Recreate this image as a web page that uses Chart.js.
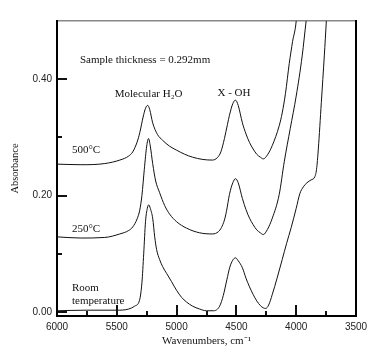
<!DOCTYPE html>
<html lang="en">
<head>
    <meta charset="UTF-8">
    <title>Absorbance spectra</title>
    <style>
        body {
            margin: 0;
            background-color: #fff;
        }
        #wrap {
            width: 387px;
            height: 351px;
        }
    </style>
</head>
<body>
    <div id="wrap">
        <canvas id="irChart" width="387" height="351"></canvas>
    </div>

    <script src="https://cdn.jsdelivr.net/npm/chart.js"></script>
    <script>
        // Room temperature spectrum
        const roomWn = [6000, 5750, 5500, 5400, 5350, 5310, 5290, 5275, 5260, 5245, 5233, 5220, 5200, 5183,
            5167, 5142, 5117, 5083, 5042, 5000, 4958, 4917, 4867, 4808, 4750, 4690, 4640, 4610, 4580, 4555,
            4530, 4508, 4485, 4450, 4420, 4390, 4360, 4330, 4300, 4275, 4255, 4230, 4200, 4160, 4117, 4080,
            4042, 4000, 3970, 3940, 3910, 3875, 3845, 3830, 3815, 3790, 3765, 3748, 3740];
        const roomAbs = [0.002, 0.003, 0.003, 0.005, 0.010, 0.020, 0.050, 0.100, 0.155, 0.178, 0.184, 0.178, 0.161, 0.129,
            0.107, 0.090, 0.078, 0.066, 0.052, 0.037, 0.025, 0.017, 0.010, 0.005, 0.002, 0.002, 0.010, 0.028, 0.055, 0.077,
            0.089, 0.093, 0.088, 0.076, 0.058, 0.043, 0.030, 0.019, 0.011, 0.007, 0.006, 0.012, 0.030, 0.058, 0.090, 0.118,
            0.145, 0.178, 0.203, 0.215, 0.222, 0.227, 0.232, 0.245, 0.280, 0.360, 0.440, 0.500, 0.530];

        // 250°C spectrum
        const t250Wn = [6000, 5800, 5600, 5475, 5400, 5367, 5330, 5308, 5290, 5270, 5250, 5235, 5220, 5200, 5175,
            5142, 5100, 5058, 5000, 4917, 4808, 4700, 4650, 4625, 4600, 4583, 4558, 4530, 4508, 4485, 4450,
            4420, 4390, 4360, 4330, 4300, 4275, 4240, 4200, 4142, 4100, 4050, 4000, 3950, 3917, 3900];
        const t250Abs = [0.129, 0.127, 0.128, 0.134, 0.140, 0.146, 0.160, 0.175, 0.200, 0.245, 0.285, 0.298, 0.285, 0.255, 0.225,
            0.205, 0.183, 0.168, 0.155, 0.144, 0.136, 0.134, 0.138, 0.145, 0.158, 0.173, 0.202, 0.222, 0.229, 0.222, 0.195,
            0.176, 0.161, 0.150, 0.141, 0.136, 0.133, 0.142, 0.161, 0.202, 0.258, 0.315, 0.371, 0.440, 0.500, 0.530];

        // 500°C spectrum
        const t500Wn = [6000, 5800, 5600, 5475, 5400, 5367, 5330, 5308, 5280, 5260, 5242, 5225, 5200, 5160, 5117,
            5060, 5000, 4933, 4867, 4780, 4700, 4660, 4630, 4600, 4575, 4558, 4530, 4508, 4485, 4450, 4420,
            4390, 4360, 4330, 4300, 4275, 4240, 4200, 4142, 4117, 4090, 4058, 4030, 4000, 3990];
        const t500Abs = [0.254, 0.253, 0.255, 0.261, 0.268, 0.275, 0.292, 0.308, 0.335, 0.350, 0.355, 0.348, 0.325, 0.305, 0.295,
            0.285, 0.278, 0.271, 0.266, 0.262, 0.261, 0.265, 0.275, 0.298, 0.322, 0.338, 0.358, 0.364, 0.355, 0.325, 0.306,
            0.291, 0.280, 0.271, 0.266, 0.263, 0.270, 0.286, 0.320, 0.342, 0.375, 0.427, 0.465, 0.500, 0.530];

        // axis ticks
        const xMajorTicks = [6000, 5500, 5000, 4500, 4000, 3500];
        const xMinorTicks = [5750, 5250, 4750, 4250, 3750];
        const yMajorTicks = [0, 0.2, 0.4];
        const yMinorTicks = [0.1, 0.3];

        // text labels placed in data units (wavenumber, absorbance)
        const notes = [
            { text: 'Sample thickness = 0.292mm', wn: 5808, abs: 0.432 },
            { text: 'Molecular H\u2082O', wn: 5517, abs: 0.375 },
            { text: 'X - OH', wn: 4658, abs: 0.376 },
            { text: '500°C', wn: 5875, abs: 0.278 },
            { text: '250°C', wn: 5875, abs: 0.142 },
            { text: 'Room', wn: 5875, abs: 0.041 },
            { text: 'temperature', wn: 5875, abs: 0.019 }
        ];

        const toPoints = (xs, ys) => xs.map((x, i) => ({ x: x, y: ys[i] }));

        const lineStyle = {
            borderColor: '#111',
            borderWidth: 1,
            pointRadius: 0,
            fill: false,
            cubicInterpolationMode: 'monotone'
        };

        const labelFont = { family: '"Liberation Sans", Arial, sans-serif', size: 10 };
        const serifFont = '"Liberation Serif", "Times New Roman", serif';

        // inward ticks: negative tick length, nothing drawn on the chart area
        const innerTicks = len => ({
            display: true,
            drawOnChartArea: false,
            drawTicks: true,
            tickLength: -len,
            lineWidth: 2,
            color: '#111'
        });

        // text notes
        const notesPlugin = {
            id: 'notes',
            afterDraw(chart) {
                const c = chart.ctx;
                const x = chart.scales.x;
                const y = chart.scales.y;
                c.save();
                c.fillStyle = '#111';
                c.font = '11px ' + serifFont;
                c.textBaseline = 'middle';
                c.textAlign = 'left';
                notes.forEach(n => {
                    c.fillText(n.text, x.getPixelForValue(n.wn), y.getPixelForValue(n.abs));
                });
                c.restore();
            }
        };

        const ctx = document.getElementById('irChart').getContext('2d');

        new Chart(ctx, {
            type: 'line',
            data: {
                datasets: [
                    Object.assign({ label: 'Room temperature', data: toPoints(roomWn, roomAbs) }, lineStyle),
                    Object.assign({ label: '250°C', data: toPoints(t250Wn, t250Abs) }, lineStyle),
                    Object.assign({ label: '500°C', data: toPoints(t500Wn, t500Abs) }, lineStyle)
                ]
            },
            options: {
                responsive: false,
                animation: false,
                layout: {
                    padding: { top: 17, right: 31, left: 0, bottom: 0 }
                },
                plugins: {
                    legend: { display: false },
                    tooltip: { enabled: false }
                },
                scales: {
                    x: {
                        type: 'linear',
                        position: 'bottom',
                        weight: 1,
                        reverse: true,
                        min: 3500,
                        max: 6000,
                        grid: innerTicks(11),
                        border: { display: true, color: '#000', width: 2 },
                        afterFit: s => { s.height = 35; },
                        afterBuildTicks: s => { s.ticks = xMajorTicks.map(v => ({ value: v })); },
                        ticks: {
                            padding: 16,
                            maxRotation: 0,
                            color: '#222',
                            font: labelFont,
                            callback: v => String(v)
                        },
                        title: {
                            display: true,
                            text: 'Wavenumbers, cm\u207B\u00B9',
                            color: '#111',
                            font: { family: serifFont, size: 11 },
                            padding: { top: 0, bottom: 3 }
                        }
                    },
                    xMinor: {
                        type: 'linear',
                        position: 'bottom',
                        weight: 0,
                        reverse: true,
                        min: 3500,
                        max: 6000,
                        grid: innerTicks(5),
                        border: { display: false },
                        afterFit: s => { s.height = 0; },
                        afterBuildTicks: s => { s.ticks = xMinorTicks.map(v => ({ value: v })); },
                        ticks: { display: false }
                    },
                    xTop: {
                        type: 'linear',
                        position: 'top',
                        min: 3500,
                        max: 6000,
                        grid: { display: false, drawTicks: false },
                        border: { display: true, color: '#888', width: 1.5 },
                        afterFit: s => { s.height = 0; },
                        ticks: { display: false }
                    },
                    y: {
                        position: 'left',
                        weight: 1,
                        min: -0.007,
                        max: 0.5,
                        grid: innerTicks(10),
                        border: { display: true, color: '#000', width: 2 },
                        afterFit: s => { s.width = 57; },
                        afterBuildTicks: s => { s.ticks = yMajorTicks.map(v => ({ value: v })); },
                        ticks: {
                            padding: 15,
                            color: '#222',
                            font: labelFont,
                            callback: v => v.toFixed(2)
                        },
                        title: {
                            display: true,
                            text: 'Absorbance',
                            color: '#111',
                            font: { family: serifFont, size: 10.5 },
                            padding: { top: 9, bottom: 0 }
                        }
                    },
                    yMinor: {
                        type: 'linear',
                        position: 'left',
                        weight: 0,
                        min: -0.007,
                        max: 0.5,
                        grid: innerTicks(5),
                        border: { display: false },
                        afterFit: s => { s.width = 0; },
                        afterBuildTicks: s => { s.ticks = yMinorTicks.map(v => ({ value: v })); },
                        ticks: { display: false }
                    },
                    yRight: {
                        type: 'linear',
                        position: 'right',
                        min: -0.007,
                        max: 0.5,
                        grid: { display: false, drawTicks: false },
                        border: { display: true, color: '#000', width: 2 },
                        afterFit: s => { s.width = 0; },
                        ticks: { display: false }
                    }
                }
            },
            plugins: [notesPlugin]
        });
    </script>
</body>
</html>
